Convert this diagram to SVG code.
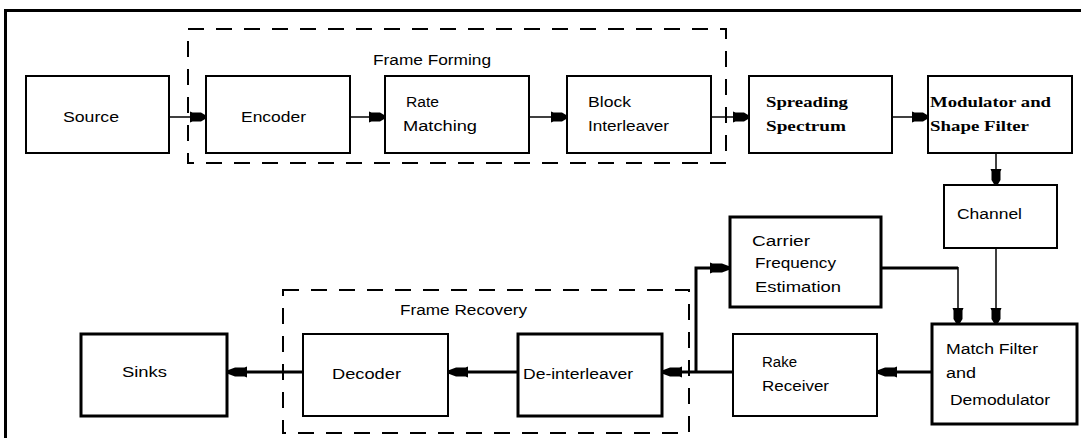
<svg xmlns="http://www.w3.org/2000/svg" width="1081" height="438" viewBox="0 0 1081 438">
<defs>
<style>
.box{fill:#fff;stroke:#000;stroke-width:2}
.thick{stroke-width:3}
.dash{fill:none;stroke:#000;stroke-width:2;stroke-dasharray:16 12}
.t{font-family:"Liberation Sans",Arial,sans-serif;font-size:14px;fill:#000}
.s{font-family:"Liberation Serif","Times New Roman",serif;font-size:15px;font-weight:bold;fill:#000}
.c1{fill:none;stroke:#000;stroke-width:1.5;marker-end:url(#ah)}
.c2{fill:none;stroke:#000;stroke-width:3;marker-end:url(#ah2)}
</style>
<marker id="ah" viewBox="0 -7 17 14" refX="16" refY="0" markerWidth="17" markerHeight="14" markerUnits="userSpaceOnUse" orient="auto">
<path d="M0,-5.5 L2.5,-4.5 L11,-4.5 L16,-1.5 L16,1.5 L11,4.5 L2.5,4.5 L0,5.5 Z" fill="#000"/>
</marker>
<marker id="ah2" viewBox="0 -7 21 14" refX="20" refY="0" markerWidth="21" markerHeight="14" markerUnits="userSpaceOnUse" orient="auto">
<path d="M0,-5.5 L2.5,-4.5 L12,-4.5 L20,-1.5 L20,1.5 L12,4.5 L2.5,4.5 L0,5.5 Z" fill="#000"/>
</marker>
</defs>
<rect x="0" y="0" width="1081" height="438" fill="#fff"/>
<rect x="5.5" y="10.5" width="1100" height="500" fill="none" stroke="#000" stroke-width="3"/>

<g id="frame-forming">
<rect class="dash" x="188" y="29" width="538" height="134"/>
<text class="t" x="373" y="65" textLength="118" lengthAdjust="spacingAndGlyphs">Frame Forming</text>
</g>
<g id="frame-recovery">
<rect class="dash" x="283" y="290" width="406" height="143"/>
<text class="t" x="400" y="315" textLength="127" lengthAdjust="spacingAndGlyphs">Frame Recovery</text>
</g>

<g id="connectors">
<path class="c1" d="M169,117 H206"/>
<path class="c1" d="M350,117 H385"/>
<path class="c1" d="M529,117 H567"/>
<path class="c1" d="M711,117 H749"/>
<path class="c1" d="M892,117 H928"/>
<path class="c1" d="M996,153 V185"/>
<path class="c1" d="M996,248 V324"/>
<path d="M881,268 H958" fill="none" stroke="#000" stroke-width="3"/>
<path class="c1" d="M958,267 V324"/>
<path class="c2" d="M932,372 H877"/>
<path class="c2" d="M733,372 H662"/>
<path class="c2" d="M696,372 V268 H730"/>
<path class="c2" d="M518,372 H448"/>
<path class="c2" d="M303,372 H227"/>
</g>

<g id="source">
<rect class="box" x="26" y="76" width="143" height="77"/>
<text class="t" x="63" y="122" textLength="56" lengthAdjust="spacingAndGlyphs">Source</text>
</g>
<g id="encoder">
<rect class="box" x="206" y="76" width="144" height="77"/>
<text class="t" x="241" y="122" textLength="65" lengthAdjust="spacingAndGlyphs">Encoder</text>
</g>
<g id="rate-matching">
<rect class="box" x="385" y="76" width="144" height="77"/>
<text class="t" x="406" y="107" textLength="33" lengthAdjust="spacingAndGlyphs">Rate</text>
<text class="t" x="403" y="131" textLength="74" lengthAdjust="spacingAndGlyphs">Matching</text>
</g>
<g id="block-interleaver">
<rect class="box" x="567" y="76" width="144" height="77"/>
<text class="t" x="588" y="107" textLength="43" lengthAdjust="spacingAndGlyphs">Block</text>
<text class="t" x="588" y="131" textLength="81" lengthAdjust="spacingAndGlyphs">Interleaver</text>
</g>
<g id="spreading-spectrum">
<rect class="box" x="749" y="76" width="143" height="77"/>
<text class="s" x="766" y="107" textLength="82" lengthAdjust="spacingAndGlyphs">Spreading</text>
<text class="s" x="766" y="131" textLength="80" lengthAdjust="spacingAndGlyphs">Spectrum</text>
</g>
<g id="modulator">
<rect class="box" x="928" y="76" width="144" height="77"/>
<text class="s" x="930" y="107" textLength="121" lengthAdjust="spacingAndGlyphs">Modulator and</text>
<text class="s" x="930" y="131" textLength="99" lengthAdjust="spacingAndGlyphs">Shape Filter</text>
</g>
<g id="channel">
<rect class="box" x="944" y="185" width="113" height="63"/>
<text class="t" x="957" y="219" textLength="65" lengthAdjust="spacingAndGlyphs">Channel</text>
</g>
<g id="carrier">
<rect class="box thick" x="730" y="217" width="151" height="90"/>
<text class="t" x="752" y="246" textLength="58" lengthAdjust="spacingAndGlyphs">Carrier</text>
<text class="t" x="755" y="268" textLength="81" lengthAdjust="spacingAndGlyphs">Frequency</text>
<text class="t" x="755" y="292" textLength="86" lengthAdjust="spacingAndGlyphs">Estimation</text>
</g>
<g id="match-filter">
<rect class="box thick" x="932" y="324" width="145" height="100"/>
<text class="t" x="946" y="354" textLength="92" lengthAdjust="spacingAndGlyphs">Match Filter</text>
<text class="t" x="946" y="378" textLength="30" lengthAdjust="spacingAndGlyphs">and</text>
<text class="t" x="950" y="405" textLength="100" lengthAdjust="spacingAndGlyphs">Demodulator</text>
</g>
<g id="rake-receiver">
<rect class="box" x="733" y="334" width="144" height="82"/>
<text class="t" x="762" y="367" textLength="35" lengthAdjust="spacingAndGlyphs">Rake</text>
<text class="t" x="762" y="391" textLength="67" lengthAdjust="spacingAndGlyphs">Receiver</text>
</g>
<g id="de-interleaver">
<rect class="box thick" x="518" y="334" width="144" height="82"/>
<text class="t" x="523" y="379" textLength="110" lengthAdjust="spacingAndGlyphs">De-interleaver</text>
</g>
<g id="decoder">
<rect class="box" x="303" y="334" width="145" height="82"/>
<text class="t" x="332" y="379" textLength="69" lengthAdjust="spacingAndGlyphs">Decoder</text>
</g>
<g id="sinks">
<rect class="box thick" x="81" y="334" width="146" height="82"/>
<text class="t" x="122" y="377" textLength="45" lengthAdjust="spacingAndGlyphs">Sinks</text>
</g>
</svg>
